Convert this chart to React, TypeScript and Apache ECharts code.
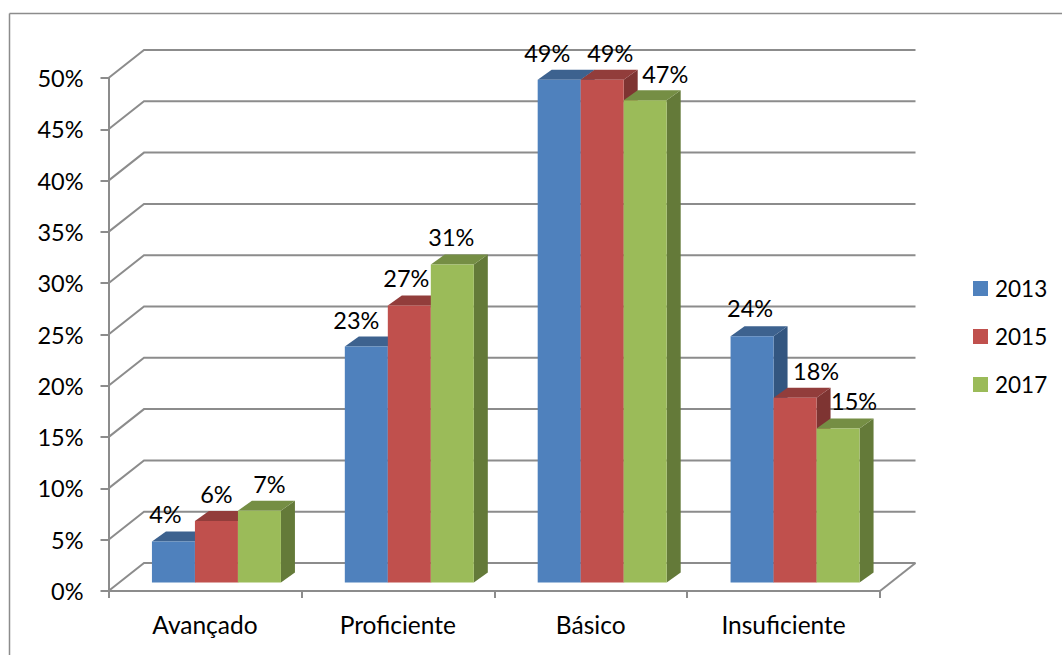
import React, { useEffect, useRef } from "react";
import * as echarts from "echarts";

const categories = ["Avançado", "Proficiente", "Básico", "Insuficiente"];
const years = ["2013", "2015", "2017"];
const values2013 = [0.04, 0.23, 0.49, 0.24];
const values2015 = [0.06, 0.27, 0.49, 0.18];
const values2017 = [0.07, 0.31, 0.47, 0.15];
const wallTicks = [0, 0.05, 0.1, 0.15, 0.2, 0.25, 0.3, 0.35, 0.4, 0.45, 0.5];

const FONT = "Lato";
const FONT_SIZE = 23.5;
const FRONT = ["#4F81BD", "#C0504D", "#9BBB59"];
const TOP = ["#3D628F", "#923D3B", "#758E44"];
const SIDE = ["#335680", "#7E3432", "#647A39"];
const GRID = "#8C8C8C";

const WALL_DX = 35.5;
const WALL_DY = 28;
const BAR_W = 43;
const BAR_DX = 14;
const BAR_DY = 10;
const PLANE_DX = 11.5;
const PLANE_DY = -8.5;
const LABEL_NUDGE = [
  [[-8, -27], [0, -27], [10, -27], [0, 0]],
  [[-10, -27], [-3, -27], [-1, -27], [0, 0]],
  [[-12, -27], [8, -27], [20, -26], [0, 0]],
  [[-2, -28], [21, -27], [16, -28], [0, 0]],
];

function barSeries(name: string, values: number[], s: number) {
  return {
    type: "custom",
    name,
    itemStyle: { color: FRONT[s] },
    encode: { x: 0, y: 1 },
    data: values.map((v, i) => [i, v]),
    renderItem: (_p: any, api: any) => {
      const cat = api.value(0);
      const v = api.value(1);
      const top = api.coord([cat, v]);
      const base = api.coord([cat, 0]);
      const x0 = top[0] + PLANE_DX + (s - 1.5) * BAR_W;
      const x1 = x0 + BAR_W;
      const yT = top[1] + PLANE_DY;
      const yB = base[1] + PLANE_DY;
      const nudge = LABEL_NUDGE[cat][s];
      return {
        type: "group",
        children: [
          {
            type: "polygon",
            shape: { points: [[x1, yT], [x1 + BAR_DX, yT - BAR_DY], [x1 + BAR_DX, yB - BAR_DY], [x1, yB]] },
            style: { fill: SIDE[s] },
          },
          {
            type: "polygon",
            shape: { points: [[x0, yT], [x0 + BAR_DX, yT - BAR_DY], [x1 + BAR_DX, yT - BAR_DY], [x1, yT]] },
            style: { fill: TOP[s] },
          },
          {
            type: "rect",
            shape: { x: x0, y: yT, width: BAR_W, height: yB - yT },
            style: { fill: FRONT[s] },
          },
          {
            type: "text",
            z2: 20,
            style: {
              x: (x0 + x1) / 2 + nudge[0],
              y: yT + nudge[1],
              text: Math.round(v * 100) + "%",
              fill: "#000",
              font: `${FONT_SIZE}px ${FONT}`,
              align: "center",
              verticalAlign: "middle",
            },
          },
        ],
      };
    },
  };
}

export default function App() {
  const ref = useRef<HTMLDivElement>(null);
  useEffect(() => {
    const chart = echarts.init(ref.current!, undefined, { renderer: "svg" });
    const wallSeries = {
      type: "custom",
      silent: true,
      z: 1,
      encode: { x: 0, y: 1 },
      data: wallTicks.map((t) => [0, t]),
      renderItem: (p: any, api: any) => {
        const v = api.value(1);
        const y = api.coord([0, v])[1];
        const left = p.coordSys.x;
        const right = left + p.coordSys.width;
        const lineStyle = { stroke: GRID, lineWidth: 2, fill: "none" };
        const children: any[] = [
          {
            type: "polyline",
            shape: { points: [[left, y], [left + WALL_DX, y - WALL_DY], [right + WALL_DX, y - WALL_DY]] },
            style: lineStyle,
          },
        ];
        if (v === 0) {
          children.push({
            type: "line",
            shape: { x1: right, y1: y, x2: right + WALL_DX, y2: y - WALL_DY },
            style: lineStyle,
          });
        }
        return { type: "group", children };
      },
    };
    chart.setOption({
      animation: false,
      backgroundColor: "#fff",
      grid: { left: 108.5, top: 78, width: 771.5, height: 513 },
      legend: {
        data: years,
        orient: "vertical",
        left: 968,
        top: 272,
        icon: "rect",
        itemWidth: 15,
        itemHeight: 15,
        itemGap: 25,
        selectedMode: false,
        textStyle: { fontFamily: FONT, fontSize: 22.5, color: "#000", padding: [0, 0, 0, 2] },
      },
      xAxis: {
        type: "category",
        data: categories,
        axisLine: { lineStyle: { color: GRID, width: 2 } },
        axisTick: { show: true, alignWithLabel: false, length: 7, lineStyle: { color: GRID, width: 2 } },
        axisLabel: { fontFamily: FONT, fontSize: 24.5, color: "#000", margin: 21 },
      },
      yAxis: {
        type: "value",
        min: 0,
        max: 0.5,
        interval: 0.05,
        splitLine: { show: false },
        axisLine: { show: true, lineStyle: { color: GRID, width: 2 } },
        axisTick: { show: true, length: 8, lineStyle: { color: GRID, width: 2 } },
        axisLabel: {
          fontFamily: FONT,
          fontSize: FONT_SIZE,
          color: "#000",
          margin: 25,
          formatter: (v: number) => Math.round(v * 100) + "%",
        },
      },
      graphic: [
        { type: "line", shape: { x1: 9.5, y1: 13.5, x2: 1062, y2: 13.5 }, style: { stroke: "#8C8C8C", lineWidth: 1.5 } },
        { type: "line", shape: { x1: 9.5, y1: 13.5, x2: 9.5, y2: 655 }, style: { stroke: "#8C8C8C", lineWidth: 1.5 } },
      ],
      series: [
        wallSeries,
        barSeries(years[0], values2013, 0),
        barSeries(years[1], values2015, 1),
        barSeries(years[2], values2017, 2),
      ],
    });
    return () => chart.dispose();
  }, []);
  return (
    <div
      ref={ref}
      style={{ position: "fixed", left: 0, top: 0, width: 1062, height: 655, background: "#fff" }}
    />
  );
}
